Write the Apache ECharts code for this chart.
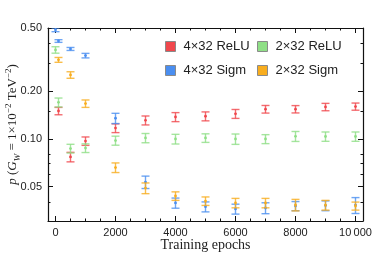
<!DOCTYPE html>
<html>
<head>
<meta charset="utf-8">
<script src="https://cdn.jsdelivr.net/npm/echarts@6/dist/echarts.min.js"></script>
<style>
html,body{margin:0;padding:0;background:#fff;}
#chart{width:374px;height:263px;}
</style>
</head>
<body>
<div id="chart"></div>
<script>
// ---- data ----
const seriesNames = ['4×32 ReLU', '2×32 ReLU', '4×32 Sigm', '2×32 Sigm'];

const reluDeepEpochs = [100, 500, 1000, 2000, 3000, 4000, 5000, 6000, 7000, 8000, 9000, 10000];
const reluDeepValues = [0.150, 0.077, 0.097, 0.117, 0.131, 0.1375, 0.139, 0.144, 0.154, 0.154, 0.159, 0.160];
const reluDeepErrors = [0.008, 0.0053, 0.0059, 0.0074, 0.0085, 0.009, 0.009, 0.0093, 0.0085, 0.0082, 0.0085, 0.0083];

const reluShallowEpochs = [0, 100, 500, 1000, 2000, 3000, 4000, 5000, 6000, 7000, 8000, 9000, 10000];
const reluShallowValues = [0.364, 0.170, 0.087, 0.0876, 0.0977, 0.1014, 0.0999, 0.1014, 0.0999, 0.0999, 0.1039, 0.1036, 0.1036];
const reluShallowErrors = [0.017, 0.011, 0.0055, 0.0055, 0.0064, 0.0068, 0.007, 0.0063, 0.0075, 0.0065, 0.0075, 0.007, 0.007];

const sigmDeepEpochs = [0, 100, 500, 1000, 2000, 3000, 4000, 5000, 6000, 7000, 8000, 9000, 10000];
const sigmDeepValues = [0.487, 0.414, 0.369, 0.335, 0.135, 0.0535, 0.0395, 0.0374, 0.0362, 0.0367, 0.0378, 0.0380, 0.0383];
const sigmDeepErrors = [0.013, 0.008, 0.008, 0.011, 0.010, 0.0048, 0.0029, 0.0027, 0.0026, 0.0029, 0.0025, 0.0027, 0.0044];

const sigmShallowEpochs = [100, 500, 1000, 2000, 3000, 4000, 5000, 6000, 7000, 8000, 9000, 10000];
const sigmShallowValues = [0.315, 0.253, 0.167, 0.066, 0.049, 0.0437, 0.0406, 0.0395, 0.0395, 0.0384, 0.0383, 0.0378];
const sigmShallowErrors = [0.011, 0.012, 0.009, 0.0046, 0.0038, 0.0027, 0.0025, 0.0027, 0.0027, 0.0032, 0.0027, 0.0022];

const xMajorTicks = [0, 2000, 4000, 6000, 8000, 10000];
const xMinorTicks = [500, 1000, 1500, 2500, 3000, 3500, 4500, 5000, 5500, 6500, 7000, 7500, 8500, 9000, 9500];
const yMajorTicks = [0.05, 0.1, 0.2, 0.5];
const yMinorTicks = [0.04, 0.06, 0.07, 0.08, 0.15, 0.3, 0.4];

// ---- styling ----
const colors = ['#f0474c', '#8fdf86', '#4a8ef0', '#f8ad1e'];
const sans = 'Liberation Sans';
const serif = 'Liberation Serif';

function build(ep, val, err) {
  return ep.map((e, i) => [e, val[i], err[i]]);
}
const allData = [
  build(reluDeepEpochs, reluDeepValues, reluDeepErrors),
  build(reluShallowEpochs, reluShallowValues, reluShallowErrors),
  build(sigmDeepEpochs, sigmDeepValues, sigmDeepErrors),
  build(sigmShallowEpochs, sigmShallowValues, sigmShallowErrors)
];

function makeRender(color) {
  return function (params, api) {
    const x = api.value(0), v = api.value(1), e = api.value(2);
    const c = api.coord([x, v]);
    const lo = api.coord([x, v - e]);
    const hi = api.coord([x, v + e]);
    const hw = 4;
    const ls = { stroke: color, lineWidth: 1.4, opacity: 0.8 };
    return {
      type: 'group',
      children: [
        { type: 'line', shape: { x1: c[0], y1: lo[1], x2: c[0], y2: hi[1] }, style: ls },
        { type: 'line', shape: { x1: c[0] - hw, y1: lo[1], x2: c[0] + hw, y2: lo[1] }, style: ls },
        { type: 'line', shape: { x1: c[0] - hw, y1: hi[1], x2: c[0] + hw, y2: hi[1] }, style: ls },
        { type: 'circle', shape: { cx: c[0], cy: c[1], r: 1.4 }, style: { fill: color } }
      ]
    };
  };
}

const axisLineStyle = { color: '#111', width: 1.2 };
const xMin = -250, xMax = 10250, yMin = 0.0304, yMax = 0.5;

function xAxisDef(pos, major, withLabels) {
  return {
    type: 'value', position: pos, min: xMin, max: xMax,
    axisLine: { show: major, onZero: false, lineStyle: axisLineStyle },
    axisTick: { show: true, inside: true, length: major ? 5 : 2.5,
      customValues: major ? xMajorTicks : xMinorTicks, lineStyle: { color: '#111', width: 1 } },
    axisLabel: withLabels ? {
      show: true, customValues: xMajorTicks, margin: 6,
      fontFamily: sans, fontSize: 11, color: '#222',
      formatter: v => v === 10000 ? '10\u2009000' : String(v)
    } : { show: false },
    splitLine: { show: false }
  };
}
function yAxisDef(pos, major, withLabels) {
  return {
    type: 'log', logBase: 10, position: pos, min: yMin, max: yMax,
    axisLine: { show: major, onZero: false, lineStyle: axisLineStyle },
    axisTick: { show: true, inside: true, length: major ? 5 : 2.5,
      customValues: major ? yMajorTicks : yMinorTicks, lineStyle: { color: '#111', width: 1 } },
    axisLabel: withLabels ? {
      show: true, customValues: yMajorTicks, margin: 6,
      fontFamily: sans, fontSize: 11, color: '#222',
      formatter: v => Number(v).toFixed(2)
    } : { show: false },
    splitLine: { show: false },
    minorTick: { show: false }
  };
}

const xAxes = [
  Object.assign(xAxisDef('bottom', true, true), {
    name: 'Training epochs', nameLocation: 'middle', nameGap: 17, nameMoveOverlap: false,
    nameTextStyle: { fontFamily: serif, fontSize: 14, color: '#222' }
  }),
  xAxisDef('bottom', false, false),
  xAxisDef('top', true, false),
  xAxisDef('top', false, false)
];
const yAxes = [
  Object.assign(yAxisDef('left', true, true), {
    name: '{i|p} ({i|G}{sub|W} = 1×10{sup|−2} TeV{sup|−2})',
    nameLocation: 'middle', nameRotate: 90, nameGap: 26, nameMoveOverlap: false,
    nameTextStyle: {
      fontFamily: serif, fontSize: 13, color: '#222', lineHeight: 18,
      rich: {
        i: { fontFamily: serif, fontStyle: 'italic', fontSize: 13, color: '#222', lineHeight: 18 },
        sub: { fontFamily: serif, fontStyle: 'italic', fontSize: 9, color: '#222', verticalAlign: 'bottom', lineHeight: 18 },
        sup: { fontFamily: serif, fontSize: 9, color: '#222', verticalAlign: 'top', lineHeight: 18 }
      }
    }
  }),
  yAxisDef('left', false, false),
  yAxisDef('right', true, false),
  yAxisDef('right', false, false)
];

const series = seriesNames.map((name, k) => ({
  name: name,
  type: 'custom',
  xAxisIndex: 0, yAxisIndex: 0,
  clip: true,
  itemStyle: { color: colors[k] },
  encode: { x: 0, y: 1 },
  renderItem: makeRender(colors[k]),
  data: allData[k]
}));

const legendCommon = {
  orient: 'vertical', padding: 0, itemWidth: 10, itemHeight: 10, itemGap: 11,
  icon: 'rect', selectedMode: false,
  itemStyle: { borderColor: '#8a8a8a', borderWidth: 1 },
  textStyle: { fontFamily: sans, fontSize: 13, color: '#222', padding: [0, 0, 0, 3] }
};

const option = {
  animation: false,
  backgroundColor: '#fff',
  grid: { left: 48, right: 11, top: 28, bottom: 42, containLabel: false, outerBoundsMode: 'none' },
  xAxis: xAxes,
  yAxis: yAxes,
  legend: [
    Object.assign({}, legendCommon, { left: 165, top: 40, data: [seriesNames[0], seriesNames[2]] }),
    Object.assign({}, legendCommon, { left: 257, top: 40, data: [seriesNames[1], seriesNames[3]] })
  ],
  series: series
};

const chart = echarts.init(document.getElementById('chart'), null, { renderer: 'canvas' });
chart.setOption(option);
</script>
</body>
</html>
